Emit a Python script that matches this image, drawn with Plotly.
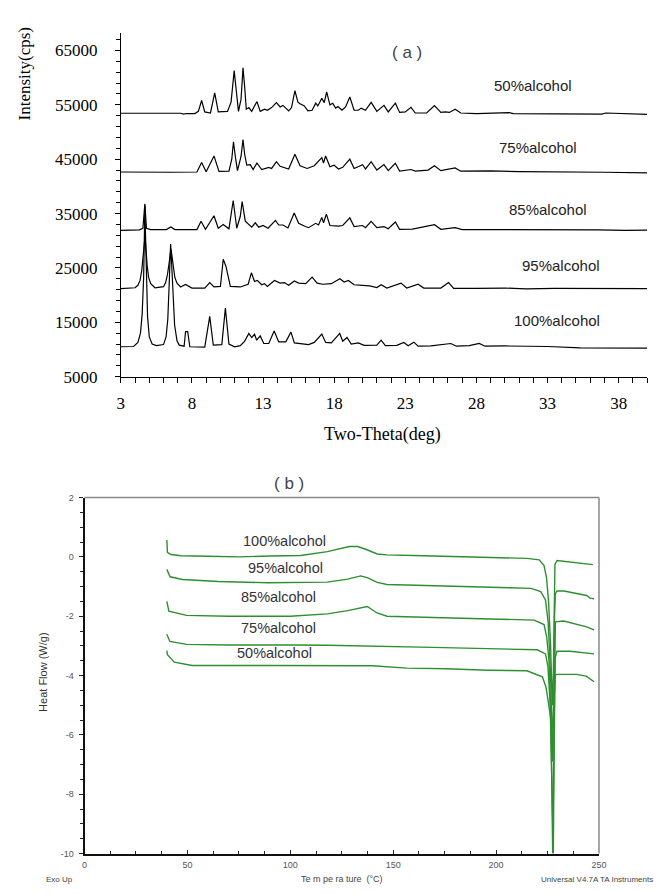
import plotly.graph_objects as go

# ---------------- (a) XRD data: two-theta (deg) and intensity (cps) ----------------
xrd_50_x = [3, 7.2, 7.4, 7.6, 8.2, 8.45, 8.68, 8.9, 9.3, 9.6, 9.85, 10.5, 10.75, 10.97, 11.1, 11.27, 11.45, 11.59, 11.7, 11.82,
            12.0, 12.2, 12.57, 12.8, 13.1, 13.3, 13.6, 13.94, 14.2, 14.4, 14.8, 15.0, 15.24, 15.45, 15.6, 15.9, 16.15, 16.45,
            16.7, 16.85, 17.13, 17.3, 17.47, 17.7, 17.9, 18.1, 18.27, 18.55, 18.8, 19.1, 19.4, 19.7, 19.9, 20.2, 20.6, 21.0,
            21.5, 21.8, 22.3, 22.6, 23.0, 23.4, 23.7, 24.5, 25.05, 25.5, 25.8, 26.1, 26.5, 26.9, 28.0, 30.3, 30.6, 33.0,
            36.8, 37.1, 39.5, 40.0]
xrd_50_y = [53450, 53450, 53300, 53400, 53400, 53800, 55800, 53700, 53500, 57200, 53700, 53800, 55500, 61300, 58000, 53800,
            56000, 61800, 58500, 54200, 54500, 53800, 55600, 53800, 54200, 54000, 54500, 55400, 54600, 54900, 53900, 54500,
            57600, 55500, 55200, 54800, 53900, 54000, 55300, 54800, 56200, 55400, 57400, 55000, 55300, 54400, 54700, 54000,
            54600, 56450, 54000, 54000, 54400, 54000, 55450, 53800, 54900, 53700, 55300, 53600, 53700, 54550, 53500, 53500,
            54850, 53600, 53700, 53600, 54200, 53500, 53400, 53550, 53400, 53350, 53300, 53500, 53350, 53250]

xrd_75_x = [3, 5, 6.5, 8.35, 8.68, 9.0, 9.55, 9.9, 10.6, 10.8, 10.92, 11.05, 11.2, 11.45, 11.59, 11.7, 11.85, 12.1, 12.3,
            12.57, 12.9, 13.4, 13.6, 13.94, 14.2, 14.8, 15.24, 15.6, 16.1, 16.6, 16.95, 17.13, 17.25, 17.4, 17.7, 18.0,
            18.3, 18.6, 19.1, 19.4, 20.0, 20.2, 20.6, 21.0, 21.5, 21.8, 22.3, 22.6, 23.4, 23.7, 24.6, 25.05, 25.5, 26.5,
            26.9, 29.0, 31.0, 34.0, 37.0, 40.0]
xrd_75_y = [42650, 42550, 42600, 42650, 44400, 42700, 45600, 42750, 42800, 45000, 48200, 45500, 42900, 45500, 48600, 46000,
            43900, 44000, 43100, 44300, 43100, 43500, 43300, 44550, 43700, 43200, 45900, 43800, 43300, 43800, 44700, 45300,
            44300, 45600, 43600, 43900, 43200, 43500, 45000, 43300, 44000, 43200, 44550, 43000, 44000, 42900, 44250, 42800,
            43100, 42800, 43000, 43800, 42900, 43400, 42800, 42850, 42700, 42700, 42600, 42500]

xrd_85_x = [3, 4.3, 4.55, 4.69, 4.8, 5.1, 6.2, 6.52, 6.8, 8.35, 8.64, 8.95, 9.55, 9.85, 10.2, 10.6, 10.9, 11.15, 11.4,
            11.53, 11.75, 12.0, 12.2, 12.45, 12.7, 13.0, 13.35, 13.87, 14.1, 14.4, 14.75, 15.19, 15.5, 15.9, 16.2, 16.7,
            16.9, 17.13, 17.25, 17.45, 17.7, 18.3, 18.6, 19.1, 19.4, 20.0, 20.2, 20.6, 21.0, 21.5, 21.8, 22.3, 22.6, 23.5,
            25.05, 25.5, 26.5, 27.0, 30.0, 33.0, 36.5, 38.5, 40.0]
xrd_85_y = [31900, 32000, 32300, 36800, 32300, 32050, 32050, 32550, 32050, 32050, 33600, 32100, 34600, 32300, 33000, 32200,
            37400, 32300, 34500, 37200, 33600, 33000, 32500, 33300, 32500, 32800, 32300, 33750, 32900, 32900, 32350, 35100,
            33200, 32700, 32400, 33200, 32900, 34300, 33300, 34900, 32800, 32700, 32800, 34200, 32600, 32800, 32400, 33550,
            32400, 32600, 32200, 33450, 32100, 32150, 32950, 32100, 32400, 32050, 32050, 31950, 32000, 31900, 31950]

xrd_95_x = [3, 4.0, 4.2, 4.35, 4.47, 4.58, 4.65, 4.7, 4.76, 4.85, 4.95, 5.1, 5.4, 6.0, 6.15, 6.28, 6.4, 6.47, 6.52, 6.58,
            6.68, 6.8, 6.95, 7.2, 7.55, 8.0, 8.9, 9.25, 9.55, 10.0, 10.2, 10.4, 10.7, 11.4, 11.95, 12.18, 12.4, 12.6, 12.9,
            13.1, 13.3, 13.8, 14.2, 14.5, 14.8, 15.2, 15.5, 16.0, 16.45, 16.8, 17.2, 17.8, 18.4, 18.7, 19.0, 19.4, 20.0,
            20.5, 21.0, 21.3, 21.7, 22.0, 22.7, 23.1, 23.9, 24.3, 25.0, 25.5, 26.04, 26.4, 28.0, 30.0, 31.5, 33.5, 40.0]
xrd_95_y = [21200, 21350, 21800, 22700, 24500, 27000, 29500, 31000, 28500, 25500, 23300, 22100, 21350, 21550, 22300, 23800,
            26000, 27800, 28500, 27500, 25000, 23200, 22200, 21500, 21950, 21300, 21300, 22300, 21500, 21600, 26600, 25200,
            21600, 21500, 22000, 24100, 22500, 22700, 21900, 22100, 21600, 22700, 22200, 22300, 21800, 22600, 22200, 22100,
            23300, 22200, 22000, 22100, 23000, 22400, 22700, 21900, 21800, 21700, 21400, 21900, 21300, 21600, 22200, 21300,
            22000, 21300, 21350, 21300, 22300, 21250, 21250, 21300, 21150, 21250, 21200]

xrd_100_x = [3, 3.9, 4.2, 4.38, 4.5, 4.6, 4.65, 4.69, 4.74, 4.8, 4.88, 5.0, 5.2, 5.5, 6.0, 6.18, 6.3, 6.4, 6.46, 6.5,
             6.55, 6.65, 6.78, 6.95, 7.1, 7.45, 7.55, 7.7, 7.85, 8.9, 9.25, 9.5, 10.1, 10.35, 10.6, 11.0, 11.4, 11.7, 12.0,
             12.2, 12.4, 12.55, 12.8, 13.05, 13.4, 13.78, 14.1, 14.6, 14.96, 15.2, 15.8, 16.2, 16.6, 17.13, 17.4, 17.8,
             18.39, 18.6, 18.9, 19.2, 19.7, 20.1, 21.0, 21.3, 21.6, 22.4, 22.9, 23.2, 23.6, 23.9, 24.8, 26.2, 26.6, 27.5,
             28.2, 28.6, 30.0, 33.0, 35.3, 37.0, 39.5, 40.0]
xrd_100_y = [10500, 10550, 11300, 13000, 16500, 23000, 30000, 36500, 30500, 23000, 16000, 12300, 11000, 10700, 10900, 12300,
             15500, 22000, 27500, 29400, 27000, 20500, 14500, 11600, 10800, 10600, 13300, 13300, 10500, 10450, 16100, 10800,
             10900, 17600, 11000, 10500, 10700, 11500, 12950, 12200, 12800, 11700, 12500, 11100, 11100, 13400, 11400, 11400,
             13200, 11200, 11000, 10900, 11300, 12850, 11300, 11200, 12950, 11500, 12200, 11000, 11200, 10750, 10800, 11700,
             10700, 10750, 11300, 10700, 11350, 10600, 10650, 11100, 10600, 10700, 11100, 10600, 10650, 10550, 10300, 10250,
             10300, 10250]

xrd_labels = ["50%alcohol", "75%alcohol", "85%alcohol", "95%alcohol", "100%alcohol"]
xrd_label_pos = [(539, 82), (544, 145), (554, 208), (567, 265), (563, 321)]  # pixel centres

# ---------------- (b) DSC data: temperature (°C) and heat flow (W/g) ----------------
dsc_100_t = [40, 40.3, 42, 47, 60, 75, 90, 105, 118, 124, 128.7, 132.7, 137, 142.2, 147, 160, 178, 201, 215, 221,
             223.3, 224.5, 225.5, 226.5, 227.3, 227.8, 228.3, 228.6, 229.6, 232, 240, 247]
dsc_100_h = [0.57, 0.15, 0.08, 0.04, 0.02, 0.0, 0.03, 0.05, 0.18, 0.27, 0.35, 0.35, 0.25, 0.10, 0.07, 0.05, 0.02, -0.01,
             -0.05, -0.10, -0.29, -0.7, -1.5, -3.0, -5.0, -4.0, -1.0, -0.25, -0.12, -0.14, -0.2, -0.26]

dsc_95_t = [40, 41.6, 47.6, 65, 89, 118, 127.9, 134.2, 137.4, 142.2, 147, 170.8, 196, 217, 221.7, 224, 225.3, 226.5,
            227.4, 227.9, 228.4, 228.8, 229.6, 233, 244, 245.6, 247.6]
dsc_95_h = [-0.42, -0.67, -0.76, -0.83, -0.87, -0.85, -0.75, -0.64, -0.70, -0.86, -0.93, -0.97, -1.03, -1.06, -1.17,
            -1.45, -2.2, -4.0, -6.9, -5.5, -2.0, -1.25, -1.15, -1.15, -1.30, -1.39, -1.41]

dsc_85_t = [40, 41, 49.6, 70, 100, 118, 127.9, 137.4, 142.2, 147, 174, 197.8, 218.5, 223.3, 224.6, 225.7, 226.7, 227.5,
            228.0, 228.5, 228.8, 232.9, 244, 247.6]
dsc_85_h = [-1.50, -1.83, -1.97, -2.0, -2.0, -1.92, -1.81, -1.67, -1.89, -2.0, -2.05, -2.08, -2.13, -2.28, -2.7, -3.5,
            -5.5, -10.0, -7.0, -3.0, -2.19, -2.16, -2.36, -2.46]

dsc_75_t = [40, 41.5, 49.6, 70, 100, 118, 169, 193, 220, 224, 225.2, 226.3, 227.2, 227.8, 228.3, 228.7, 229.6, 236, 247.6]
dsc_75_h = [-2.61, -2.85, -2.95, -2.97, -2.97, -2.98, -3.05, -3.08, -3.13, -3.27, -3.7, -5.0, -8.0, -10.0, -6.0, -3.4,
            -3.18, -3.18, -3.27]

dsc_50_t = [40, 40.3, 43.6, 52.3, 90, 140, 156.5, 175.6, 196, 215, 222.5, 224.3, 225.6, 226.6, 227.3, 227.9, 228.4,
            228.8, 229.6, 239, 243.8, 247.6]
dsc_50_h = [-3.16, -3.3, -3.55, -3.66, -3.66, -3.67, -3.75, -3.77, -3.82, -3.84, -4.04, -4.4, -5.0, -5.6, -5.8, -5.0,
            -4.2, -3.98, -3.96, -3.96, -4.02, -4.21]

dsc_labels = ["100%alcohol", "95%alcohol", "85%alcohol", "75%alcohol", "50%alcohol"]
dsc_label_pos = [(286, 545), (287, 573), (280, 602), (280, 634), (275, 659)]

dsc_y_ticks = [2, 0, -2, -4, -6, -8, -10]
dsc_y_ticktext = ["2", "0", "-2", "-4", "-6", "-8", "-10"]

W, H = 660, 894


def px(x):
    return x / W


def py(y):
    return 1 - y / H


SERIF = "Liberation Serif, Times New Roman, serif"
SANS = "Liberation Sans, Arial, sans-serif"
GREEN = "#2e8f2e"

fig = go.Figure()

for xs, ys in [(xrd_50_x, xrd_50_y), (xrd_75_x, xrd_75_y), (xrd_85_x, xrd_85_y),
               (xrd_95_x, xrd_95_y), (xrd_100_x, xrd_100_y)]:
    fig.add_trace(go.Scatter(x=xs, y=ys, mode="lines", line=dict(color="black", width=1.2),
                             xaxis="x", yaxis="y", showlegend=False, hoverinfo="skip"))

for ts, hs in [(dsc_100_t, dsc_100_h), (dsc_95_t, dsc_95_h), (dsc_85_t, dsc_85_h),
               (dsc_75_t, dsc_75_h), (dsc_50_t, dsc_50_h)]:
    fig.add_trace(go.Scatter(x=ts, y=hs, mode="lines", line=dict(color=GREEN, width=1.4),
                             xaxis="x2", yaxis="y2", showlegend=False, hoverinfo="skip"))


def note(text, cx, cy, size, family=SANS, color="#333", angle=0, xanchor="center"):
    return dict(text=text, x=px(cx), y=py(cy), xref="paper", yref="paper", showarrow=False,
                xanchor=xanchor, yanchor="middle", textangle=angle,
                font=dict(family=family, size=size, color=color))


annotations = []
# panel (a) texts
annotations.append(note("( a )", 410, 48, 17, color="#444"))
for lab, (cx, cy) in zip(xrd_labels, xrd_label_pos):
    annotations.append(note(lab, cx, cy, 15, color="#222"))
annotations.append(note("Intensity(cps)", 21, 70, 17, family=SERIF, color="black", angle=-90))
annotations.append(note("Two-Theta(deg)", 386, 437, 18, family=SERIF, color="black"))
# panel (b) texts
annotations.append(note("( b )", 290, 487, 17, color="#444"))
for lab, (cx, cy) in zip(dsc_labels, dsc_label_pos):
    annotations.append(note(lab, cx, cy, 14.5, color="#333"))
annotations.append(note("Heat Flow (W/g)", 39, 679, 11, angle=-90))
annotations.append(note("Exo Up", 57, 889, 8, color="#444"))
annotations.append(note("Te m pe ra ture  (°C)", 344, 889, 9, color="#444"))
annotations.append(note("Universal V4.7A TA Instruments", 545, 889, 8, color="#444", xanchor="left"))

shapes = [
    dict(type="line", xref="x2 domain", yref="y2 domain", x0=0, x1=1, y0=1, y1=1,
         line=dict(color="#888", width=1.5)),
    dict(type="line", xref="x2 domain", yref="y2 domain", x0=1, x1=1, y0=0, y1=1,
         line=dict(color="#888", width=1.5)),
]

fig.update_layout(
    width=W, height=H, margin=dict(l=0, r=0, t=0, b=0),
    paper_bgcolor="white", plot_bgcolor="white", showlegend=False,
    annotations=annotations, shapes=shapes,
    xaxis=dict(domain=[px(119), px(655)], anchor="y", range=[3, 40], tick0=3, dtick=5,
               ticks="outside", ticklen=5, tickwidth=1, tickcolor="black",
               showline=True, linecolor="black", linewidth=1, showgrid=False, zeroline=False,
               tickfont=dict(family=SERIF, size=17, color="black"), ticklabelstandoff=6,
               minor=dict(tick0=3, dtick=1, ticks="outside", ticklen=5, tickcolor="black", showgrid=False)),
    yaxis=dict(domain=[py(378), py(28)], anchor="x", range=[5000, 68300], tick0=5000, dtick=10000,
               tickformat="d",
               ticks="outside", ticklen=5, tickwidth=1, tickcolor="black",
               showline=True, linecolor="black", linewidth=1, showgrid=False, zeroline=False,
               tickfont=dict(family=SERIF, size=17, color="black"), ticklabelstandoff=14,
               minor=dict(tick0=5000, dtick=2000, ticks="outside", ticklen=4, tickcolor="black", showgrid=False)),
    xaxis2=dict(domain=[px(82), px(606)], anchor="y2", range=[0, 250], tick0=0, dtick=50,
                ticks="inside", ticklen=4, tickwidth=1, tickcolor="#222",
                showline=True, linecolor="#111", linewidth=2, showgrid=False, zeroline=False,
                tickfont=dict(family=SANS, size=9, color="#555"), ticklabelstandoff=2,
                minor=dict(tick0=0, dtick=12.5, ticks="inside", ticklen=3, tickcolor="#222", showgrid=False)),
    yaxis2=dict(domain=[py(863), py(501)], anchor="x2", range=[-10, 2], tickmode="array",
                tickvals=dsc_y_ticks, ticktext=dsc_y_ticktext,
                ticks="outside", ticklen=4, tickwidth=1, tickcolor="#222",
                showline=True, linecolor="#111", linewidth=2, showgrid=False, zeroline=False,
                tickfont=dict(family=SANS, size=9, color="#555"), ticklabelstandoff=3,
                minor=dict(tickmode="linear", tick0=0, dtick=0.5, ticks="outside", ticklen=3,
                           tickcolor="#222", showgrid=False)),
)

post = ("document.documentElement.style.margin='0px';document.documentElement.style.overflow='hidden';"
        "document.body.style.margin='0px';document.body.style.overflow='hidden';"
        "var d=document.getElementById('{plot_id}');d.style.position='absolute';d.style.left='0px';d.style.top='0px';")
fig.write_html("out.html", config={"displayModeBar": False}, post_script=post)
